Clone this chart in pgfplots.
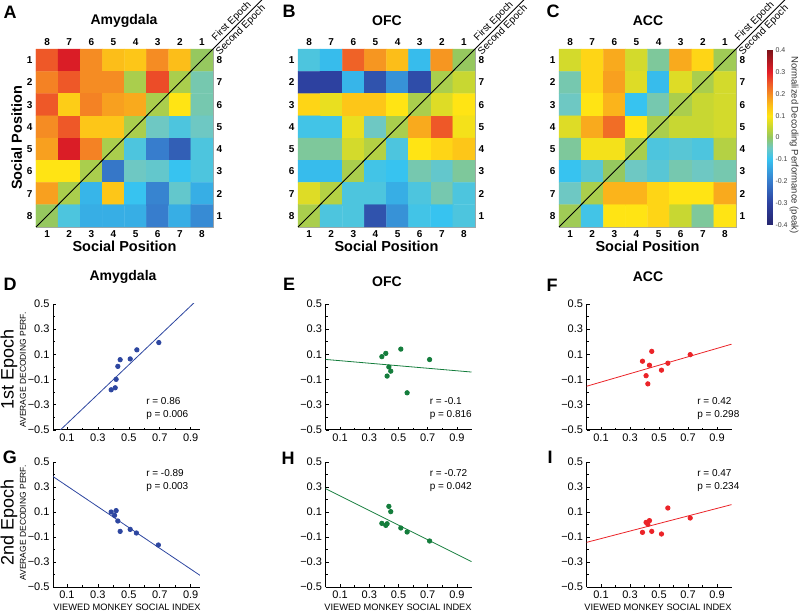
\documentclass[border=0pt]{standalone}
\usepackage{fontspec}
\setmainfont{Liberation Sans}
\usepackage{pgfplots}
\pgfplotsset{compat=1.18}
\definecolor{dotBlue}{RGB}{45,70,160}
\definecolor{dotGreen}{RGB}{20,125,60}
\definecolor{dotRed}{RGB}{235,35,40}

\pgfplotsset{
  colormap={dec}{
    rgb255(0pt)=(38,38,110) rgb255(10pt)=(45,65,160) rgb255(20pt)=(55,125,205)
    rgb255(30pt)=(55,195,240) rgb255(35pt)=(110,200,195) rgb255(40pt)=(150,200,95)
    rgb255(45pt)=(200,215,50) rgb255(50pt)=(255,228,20) rgb255(55pt)=(252,190,25)
    rgb255(60pt)=(245,140,35) rgb255(65pt)=(238,88,40) rgb255(70pt)=(228,30,40)
    rgb255(80pt)=(125,20,25)},
  /pgf/number format/assume math mode=true,
  hm/.style={
    scale only axis, width=177pt, height=178pt, anchor=south west,
    xmin=0.5, xmax=8.5, ymin=0.5, ymax=8.5, y dir=reverse,
    xtick={1,...,8}, ytick={1,...,8}, major tick length=0pt,
    tick label style={font=\bfseries\fontsize{10}{12}\selectfont},
    xlabel style={font=\bfseries\fontsize{14.5}{16}\selectfont, yshift=3pt},
    colormap name=dec, point meta min=-0.4, point meta max=0.4,
    axis line style={gray!70, line width=0.4pt}, clip=false},
  hmtop/.style={hm, xticklabel pos=upper, yticklabel pos=right,
    xticklabels={8,7,6,5,4,3,2,1}, yticklabels={8,7,6,5,4,3,2,1},
    axis line style={draw=none}},
  sc/.style={
    scale only axis, anchor=south west, clip mode=individual,
    axis x line*=bottom, axis y line*=left,
    ymin=-0.5, ymax=0.5,
    xtick={0.1,0.3,0.5,0.7,0.9}, xticklabels={0.1,0.3,0.5,0.7,0.9},
    ytick={-0.5,-0.3,-0.1,0.1,0.3,0.5},
    yticklabels={−0.5,−0.3,−0.1,0.1,0.3,0.5},
    minor x tick num=1, minor y tick num=1,
    tick align=inside, major tick length=3pt, minor tick length=2pt,
    tick style={black, line width=0.6pt},
    axis line style={line width=1pt},
    tick label style={font=\fontsize{11}{12}\selectfont},
    every axis plot/.append style={line width=0.8pt},
  },
  dots/.style={only marks, mark=*, mark size=2.2pt},
}
\newcommand{\rp}{\fontsize{10}{12}\selectfont}
\newcommand{\ep}{\fontsize{10}{12}\selectfont}

\begin{document}
\begin{tikzpicture}
\useasboundingbox (0,0) rectangle (800pt,613pt);

% ---------- heatmaps ----------
\begin{axis}[hm, at={(36pt,386pt)}, xlabel={Social Position}, ylabel={Social Position},
  ylabel style={font=\bfseries\fontsize{14.5}{16}\selectfont, yshift=-2pt}]
\addplot[matrix plot*, mesh/cols=8, point meta=explicit] coordinates {
(1,1)[0.25] (2,1)[0.31] (3,1)[0.2] (4,1)[0.15] (5,1)[0.14] (6,1)[0.2] (7,1)[0.15] (8,1)[0.0]
(1,2)[0.21] (2,2)[0.25] (3,2)[0.2] (4,2)[0.2] (5,2)[0.02] (6,2)[0.26] (7,2)[0.02] (8,2)[-0.04]
(1,3)[0.25] (2,3)[0.13] (3,3)[0.21] (4,3)[0.18] (5,3)[0.17] (6,3)[0.02] (7,3)[0.1] (8,3)[-0.04]
(1,4)[0.2] (2,4)[0.25] (3,4)[0.14] (4,4)[0.14] (5,4)[0.02] (6,4)[-0.05] (7,4)[-0.08] (8,4)[-0.05]
(1,5)[0.18] (2,5)[0.31] (3,5)[0.21] (4,5)[0.02] (5,5)[-0.08] (6,5)[-0.2] (7,5)[-0.25] (8,5)[-0.08]
(1,6)[0.1] (2,6)[0.1] (3,6)[0.02] (4,6)[-0.21] (5,6)[-0.05] (6,6)[-0.06] (7,6)[-0.1] (8,6)[-0.08]
(1,7)[0.18] (2,7)[0.02] (3,7)[-0.12] (4,7)[0.14] (5,7)[-0.1] (6,7)[-0.19] (7,7)[-0.06] (8,7)[-0.13]
(1,8)[0.0] (2,8)[-0.08] (3,8)[-0.13] (4,8)[-0.13] (5,8)[-0.13] (6,8)[-0.2] (7,8)[-0.13] (8,8)[-0.18]
};
\draw[line width=0.9pt] (axis cs:0.5,8.5) -- (axis cs:11,-2)
  node[pos=0.862, sloped, above, inner sep=1pt, font=\ep] {First Epoch}
  node[pos=0.862, sloped, below, inner sep=1.5pt, font=\ep] {Second Epoch};
\end{axis}
\begin{axis}[hmtop, at={(36pt,386pt)}]\end{axis}

\begin{axis}[hm, at={(298pt,386pt)}, xlabel={Social Position}]
\addplot[matrix plot*, mesh/cols=8, point meta=explicit] coordinates {
(1,1)[-0.08] (2,1)[-0.11] (3,1)[0.24] (4,1)[0.19] (5,1)[0.15] (6,1)[-0.11] (7,1)[0.19] (8,1)[0.0]
(1,2)[-0.3] (2,2)[-0.3] (3,2)[-0.12] (4,2)[-0.27] (5,2)[-0.17] (6,2)[-0.28] (7,2)[0.02] (8,2)[0.05]
(1,3)[0.12] (2,3)[0.08] (3,3)[0.14] (4,3)[0.14] (5,3)[0.1] (6,3)[0.02] (7,3)[0.07] (8,3)[0.1]
(1,4)[-0.09] (2,4)[-0.09] (3,4)[0.08] (4,4)[-0.05] (5,4)[0.02] (6,4)[0.17] (7,4)[0.25] (8,4)[0.09]
(1,5)[-0.03] (2,5)[-0.03] (3,5)[0.06] (4,5)[0.03] (5,5)[-0.08] (6,5)[0.1] (7,5)[0.12] (8,5)[0.14]
(1,6)[-0.11] (2,6)[-0.11] (3,6)[0.02] (4,6)[-0.09] (5,6)[-0.1] (6,6)[-0.04] (7,6)[-0.06] (8,6)[-0.03]
(1,7)[0.07] (2,7)[0.03] (3,7)[-0.08] (4,7)[-0.08] (5,7)[-0.13] (6,7)[-0.08] (7,7)[-0.04] (8,7)[-0.08]
(1,8)[0.02] (2,8)[-0.08] (3,8)[-0.08] (4,8)[-0.27] (5,8)[-0.17] (6,8)[-0.09] (7,8)[-0.1] (8,8)[-0.08]
};
\draw[line width=0.9pt] (axis cs:0.5,8.5) -- (axis cs:11,-2)
  node[pos=0.862, sloped, above, inner sep=1pt, font=\ep] {First Epoch}
  node[pos=0.862, sloped, below, inner sep=1.5pt, font=\ep] {Second Epoch};
\end{axis}
\begin{axis}[hmtop, at={(298pt,386pt)}]\end{axis}

\begin{axis}[hm, at={(559pt,386pt)}, xlabel={Social Position}]
\addplot[matrix plot*, mesh/cols=8, point meta=explicit] coordinates {
(1,1)[0.06] (2,1)[0.12] (3,1)[0.17] (4,1)[0.06] (5,1)[-0.03] (6,1)[0.17] (7,1)[0.12] (8,1)[0.01]
(1,2)[-0.04] (2,2)[0.12] (3,2)[0.18] (4,2)[0.07] (5,2)[-0.11] (6,2)[0.07] (7,2)[0.02] (8,2)[0.06]
(1,3)[-0.05] (2,3)[0.1] (3,3)[0.16] (4,3)[-0.1] (5,3)[-0.04] (6,3)[0.02] (7,3)[0.05] (8,3)[0.06]
(1,4)[0.07] (2,4)[0.17] (3,4)[0.23] (4,4)[0.1] (5,4)[0.02] (6,4)[0.05] (7,4)[0.05] (8,4)[0.06]
(1,5)[-0.03] (2,5)[0.09] (3,5)[0.09] (4,5)[0.02] (5,5)[-0.08] (6,5)[-0.07] (7,5)[-0.08] (8,5)[0.03]
(1,6)[-0.1] (2,6)[-0.07] (3,6)[0.0] (4,6)[-0.05] (5,6)[-0.07] (6,6)[-0.04] (7,6)[-0.05] (8,6)[-0.04]
(1,7)[-0.05] (2,7)[0.02] (3,7)[0.16] (4,7)[0.16] (5,7)[0.12] (6,7)[0.1] (7,7)[0.1] (8,7)[0.17]
(1,8)[0.01] (2,8)[-0.09] (3,8)[0.1] (4,8)[0.1] (5,8)[0.12] (6,8)[0.05] (7,8)[-0.03] (8,8)[0.1]
};
\draw[line width=0.9pt] (axis cs:0.5,8.5) -- (axis cs:11,-2)
  node[pos=0.862, sloped, above, inner sep=1pt, font=\ep] {First Epoch}
  node[pos=0.862, sloped, below, inner sep=1.5pt, font=\ep] {Second Epoch};
\end{axis}
\begin{axis}[hmtop, at={(559pt,386pt)}]\end{axis}

% ---------- colour scale ----------
\begin{axis}[scale only axis, anchor=south west, at={(767pt,388pt)}, width=5pt, height=175pt,
  xmin=0, xmax=1, ymin=-0.4, ymax=0.4, xtick=\empty,
  ytick={-0.4,-0.3,-0.2,-0.1,0,0.1,0.2,0.3,0.4},
  yticklabels={-0.4,-0.3,-0.2,-0.1,0,0.1,0.2,0.3,0.4},
  yticklabel pos=right, major tick length=0pt, axis line style={draw=none},
  yticklabel style={font=\fontsize{7}{8}\selectfont, text=black!75},
  colormap name=dec, point meta min=-0.4, point meta max=0.4]
\addplot[surf, shader=interp, point meta=y, mesh/cols=2] coordinates {
(0,-0.4) (1,-0.4) (0,-0.3) (1,-0.3) (0,-0.2) (1,-0.2) (0,-0.1) (1,-0.1)
(0,-0.05) (1,-0.05) (0,0) (1,0) (0,0.05) (1,0.05) (0,0.1) (1,0.1)
(0,0.15) (1,0.15) (0,0.2) (1,0.2) (0,0.25) (1,0.25) (0,0.3) (1,0.3) (0,0.4) (1,0.4)};
\end{axis}

% ---------- scatter plots, first epoch ----------
\begin{axis}[sc, at={(53pt,183pt)}, width=147pt, height=126pt, xmin=0.01, xmax=0.96]
\addplot[dotBlue, dots] coordinates {(0.386,-0.181) (0.412,-0.165) (0.418,-0.098) (0.429,0.005) (0.444,0.058) (0.509,0.064) (0.552,0.136) (0.694,0.194)};
\addplot[dotBlue] coordinates {(0,-0.567) (1,0.601)};
\node[anchor=west, font=\rp] at (axis cs:0.59,-0.27) {r = 0.86};
\node[anchor=west, font=\rp] at (axis cs:0.59,-0.385) {p = 0.006};
\end{axis}
\begin{axis}[sc, at={(325.5pt,183pt)}, width=146pt, height=126pt, xmin=0, xmax=1]
\addplot[dotGreen, dots] coordinates {(0.386,0.082) (0.413,0.108) (0.422,-0.072) (0.434,0.0) (0.447,-0.033) (0.516,0.142) (0.559,-0.205) (0.713,0.059)};
\addplot[dotGreen] coordinates {(0,0.06) (1,-0.04)};
\node[anchor=west, font=\rp] at (axis cs:0.69,-0.27) {r = -0.1};
\node[anchor=west, font=\rp] at (axis cs:0.69,-0.385) {p = 0.816};
\end{axis}
\begin{axis}[sc, at={(586.5pt,183pt)}, width=145pt, height=126pt, xmin=0, xmax=1]
\addplot[dotRed, dots] coordinates {(0.386,0.046) (0.411,-0.069) (0.423,-0.134) (0.434,0.014) (0.45,0.124) (0.517,-0.025) (0.561,0.03) (0.715,0.098)};
\addplot[dotRed] coordinates {(0,-0.153) (1,0.181)};
\node[anchor=west, font=\rp] at (axis cs:0.74,-0.27) {r = 0.42};
\node[anchor=west, font=\rp] at (axis cs:0.74,-0.385) {p = 0.298};
\end{axis}

% ---------- scatter plots, second epoch ----------
\begin{axis}[sc, at={(53pt,26pt)}, width=147pt, height=125pt, xmin=0.01, xmax=0.96]
\addplot[dotBlue, dots] coordinates {(0.386,0.1) (0.408,0.073) (0.418,0.111) (0.429,0.028) (0.444,-0.055) (0.509,-0.039) (0.549,-0.068) (0.691,-0.164)};
\addplot[dotBlue] coordinates {(0,0.392) (1,-0.44)};
\node[anchor=west, font=\rp] at (axis cs:0.59,0.41) {r = -0.89};
\node[anchor=west, font=\rp] at (axis cs:0.59,0.30) {p = 0.003};
\end{axis}
\begin{axis}[sc, at={(325.5pt,26pt)}, width=146pt, height=125pt, xmin=0, xmax=1]
\addplot[dotGreen, dots] coordinates {(0.386,0.009) (0.413,-0.007) (0.422,0.006) (0.434,0.145) (0.447,0.103) (0.516,-0.028) (0.559,-0.06) (0.713,-0.132)};
\addplot[dotGreen] coordinates {(0,0.287) (1,-0.297)};
\node[anchor=west, font=\rp] at (axis cs:0.69,0.41) {r = -0.72};
\node[anchor=west, font=\rp] at (axis cs:0.69,0.30) {p = 0.042};
\end{axis}
\begin{axis}[sc, at={(586.5pt,26pt)}, width=145pt, height=125pt, xmin=0, xmax=1]
\addplot[dotRed, dots] coordinates {(0.386,-0.063) (0.411,0.017) (0.423,0.001) (0.434,0.031) (0.45,-0.055) (0.517,-0.076) (0.561,0.132) (0.715,0.052)};
\addplot[dotRed] coordinates {(0,-0.143) (1,0.159)};
\node[anchor=west, font=\rp] at (axis cs:0.74,0.41) {r = 0.47};
\node[anchor=west, font=\rp] at (axis cs:0.74,0.30) {p = 0.234};
\end{axis}

% ---------- titles, letters, labels ----------
\begin{scope}[every node/.style={font=\bfseries\fontsize{14}{16}\selectfont}]
\node at (124pt,592pt) {Amygdala};
\node at (387pt,592pt) {OFC};
\node at (648pt,592pt) {ACC};
\node at (123pt,336pt) {Amygdala};
\node at (387pt,331pt) {OFC};
\node at (648pt,336pt) {ACC};
\end{scope}
\begin{scope}[every node/.style={font=\bfseries\fontsize{18}{20}\selectfont}]
\node at (10pt,601pt) {A};
\node at (289pt,602pt) {B};
\node at (553pt,602pt) {C};
\node at (10pt,329pt) {D};
\node at (289pt,329pt) {E};
\node at (552pt,328pt) {F};
\node at (10pt,156pt) {G};
\node at (288pt,155pt) {H};
\node at (550pt,156pt) {I};
\end{scope}
\node[rotate=90, font=\fontsize{18}{20}\selectfont] at (9pt,244pt) {1st Epoch};
\node[rotate=90, font=\fontsize{18}{20}\selectfont] at (9pt,91pt) {2nd Epoch};
\node[rotate=90, font=\fontsize{8.5}{9}\selectfont] at (23pt,243pt) {AVERAGE DECODING PERF.};
\node[rotate=90, font=\fontsize{8.5}{9}\selectfont] at (23pt,90pt) {AVERAGE DECODING PERF.};
\node[font=\fontsize{9.3}{10}\selectfont] at (127pt,6pt) {VIEWED MONKEY SOCIAL INDEX};
\node[font=\fontsize{9.3}{10}\selectfont] at (398pt,6pt) {VIEWED MONKEY SOCIAL INDEX};
\node[font=\fontsize{9.3}{10}\selectfont] at (658pt,6pt) {VIEWED MONKEY SOCIAL INDEX};
\node[rotate=-90, font=\fontsize{9.5}{10}\selectfont, text=black!80] at (794pt,468pt) {Normalized Decoding Performance (peak)};
\end{tikzpicture}
\end{document}
